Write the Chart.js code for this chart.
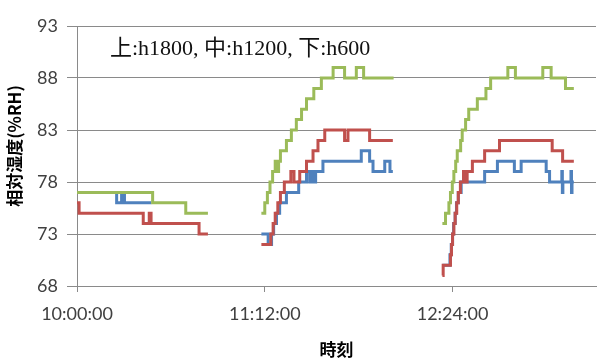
<!DOCTYPE html>
<html>
<head>
<meta charset="utf-8">
<script src="https://cdn.jsdelivr.net/npm/chart.js@4"></script>
<style>
  html, body { margin: 0; padding: 0; background: #fff; }
  #wrap { width: 598px; height: 364px; }
</style>
</head>
<body>
<div id="wrap"><canvas id="humidityChart" width="598" height="364"></canvas></div>
<script>
// [minutes after 10:00, %RH]; null breaks the line between runs
const h1800 = [
  [0, 77], [29, 76], [41.7, 75], [50.2, 75],
  [60, null],
  [70.7, 75], [72, 76], [73, 77], [74, 78], [75, 79], [76, 80], [76.7, 79], [77.3, 80],
  [78, 81], [80.3, 82], [82.2, 83], [84.1, 84], [86.1, 85], [88, 86], [90.8, 87],
  [93.7, 88], [98.2, 89], [102.6, 88], [107.1, 89], [109.9, 88], [121.4, 88],
  [130, null],
  [140.1, 74], [141.3, 75], [142.6, 76], [143.2, 77], [143.9, 78], [144.5, 79],
  [145.2, 80], [145.8, 81], [147.1, 82], [147.7, 83], [149, 84], [150.2, 85],
  [153.5, 86], [156.8, 87], [158.6, 88], [165.2, 89], [168.1, 88], [178.6, 89],
  [181.8, 88], [187.3, 87], [190.5, 87]
];

const h1200 = [
  [0, 76], [0.8, 75], [25.4, 74], [27.7, 75], [28.4, 74], [46.8, 73], [50.2, 73],
  [60, null],
  [70.7, 72], [74.3, 73], [75.2, 74], [76, 75], [77, 76], [78, 77], [79.5, 78],
  [82, 79], [83.2, 78], [85.4, 79], [88, 80], [90.5, 81], [92.4, 82], [95, 83],
  [102.6, 82], [103.9, 83], [112.2, 82], [121.1, 82],
  [130, null],
  [140.1, 69], [140.4, 70], [143.2, 71], [143.6, 72], [144, 73], [144.5, 74],
  [145, 75], [145.6, 76], [146.2, 77], [147, 78], [148.2, 79], [149, 78],
  [149.6, 79], [151.6, 80], [156.3, 81], [162, 82], [182.2, 81], [186.2, 80],
  [190.5, 80]
];

const h600 = [
  [0, 77], [15.2, 76], [17.1, 77], [18.2, 76], [28.5, 76],
  [60, null],
  [70.7, 73], [73.3, 72], [74.6, 73], [75.4, 74], [76.5, 75], [77.7, 76], [80.3, 77],
  [85, 78], [88, 79], [89.2, 78], [89.8, 79], [90.8, 78], [91.5, 79], [94.3, 80],
  [109, 81], [112.2, 80], [113.5, 79], [118, 80], [120, 79], [121.1, 79],
  [130, null],
  [140.1, 70], [143, 71], [143.5, 72], [144, 73], [144.4, 74], [145, 75],
  [145.5, 76], [146.2, 77], [147.3, 78], [156.3, 79], [161.2, 80], [167.7, 79],
  [170.3, 80], [179.9, 79], [181.2, 78], [185.9, 79], [186.1, 77], [186.3, 78],
  [189.4, 79], [189.6, 77], [189.8, 78], [190.5, 78]
];

const xTickMinutes = [0, 72, 144];
const xTickLabels = ['10:00:00', '11:12:00', '12:24:00'];
const noteText = '上:h1800, 中:h1200, 下:h600';
const yTitle = '相対湿度(%RH)';

const axisGray = '#8a8a8a';
const labelFont = { family: 'Lato', size: 18 };

function toPoints(pairs) {
  return pairs.map(p => ({ x: p[0], y: p[1] }));
}

function lineSet(label, pairs, color) {
  return {
    label: label,
    data: toPoints(pairs),
    borderColor: color,
    backgroundColor: color,
    borderWidth: 3,
    stepped: 'before', // hold each reading until the next one
    pointRadius: 0,
    spanGaps: false,
    borderJoinStyle: 'miter',
    fill: false,
  };
}

// note in the top-left of the plot, plus the rotated y title
const notePlugin = {
  id: 'note',
  afterDraw(chart) {
    const ctx = chart.ctx;
    ctx.save();
    ctx.font = '22px "Liberation Serif", "Noto Sans CJK JP"';
    ctx.fillStyle = '#111';
    ctx.textBaseline = 'alphabetic';
    ctx.fillText(noteText, 110, 55);

    ctx.translate(15, 146);
    ctx.rotate(-Math.PI / 2);
    ctx.font = 'bold 17px "Noto Sans CJK JP"';
    ctx.fillStyle = '#000';
    ctx.textAlign = 'center';
    ctx.textBaseline = 'middle';
    ctx.fillText(yTitle, 0, 0);
    ctx.restore();
  }
};

const ctx = document.getElementById('humidityChart').getContext('2d');
new Chart(ctx, {
  type: 'line',
  data: {
    datasets: [
      lineSet('h1800', h1800, '#9bbb59'),
      lineSet('h1200', h1200, '#c0504d'),
      lineSet('h600', h600, '#4f81bd'),
    ],
  },
  options: {
    responsive: false,
    animation: false,
    layout: { padding: { top: 26, right: 2, left: 0, bottom: 0 } },
    plugins: {
      legend: { display: false },
      tooltip: { enabled: false },
    },
    scales: {
      x: {
        type: 'linear',
        min: 0,
        max: 199,
        afterBuildTicks: function (scale) {
          scale.ticks = xTickMinutes.map(v => ({ value: v }));
        },
        afterFit: function (scale) {
          scale.height = 78;
        },
        ticks: {
          color: '#404040',
          font: labelFont,
          padding: 11,
          maxRotation: 0,
          callback: function (value, index) {
            return xTickLabels[index];
          },
        },
        grid: {
          drawOnChartArea: false,
          drawTicks: true,
          tickLength: 6,
          color: axisGray,
        },
        border: { color: axisGray },
        title: {
          display: true,
          text: '時刻',
          color: '#000',
          font: { family: 'Noto Sans CJK JP', size: 17, weight: 'bold' },
          padding: { top: 0, bottom: 4 },
        },
      },
      y: {
        min: 68,
        max: 93,
        afterFit: function (scale) {
          scale.width = 77;
        },
        ticks: {
          stepSize: 5,
          color: '#404040',
          font: labelFont,
          padding: 9,
        },
        grid: {
          color: axisGray,
          lineWidth: 1,
          tickLength: 10,
        },
        border: { color: axisGray },
      },
    },
  },
  plugins: [notePlugin],
});
</script>
</body>
</html>
